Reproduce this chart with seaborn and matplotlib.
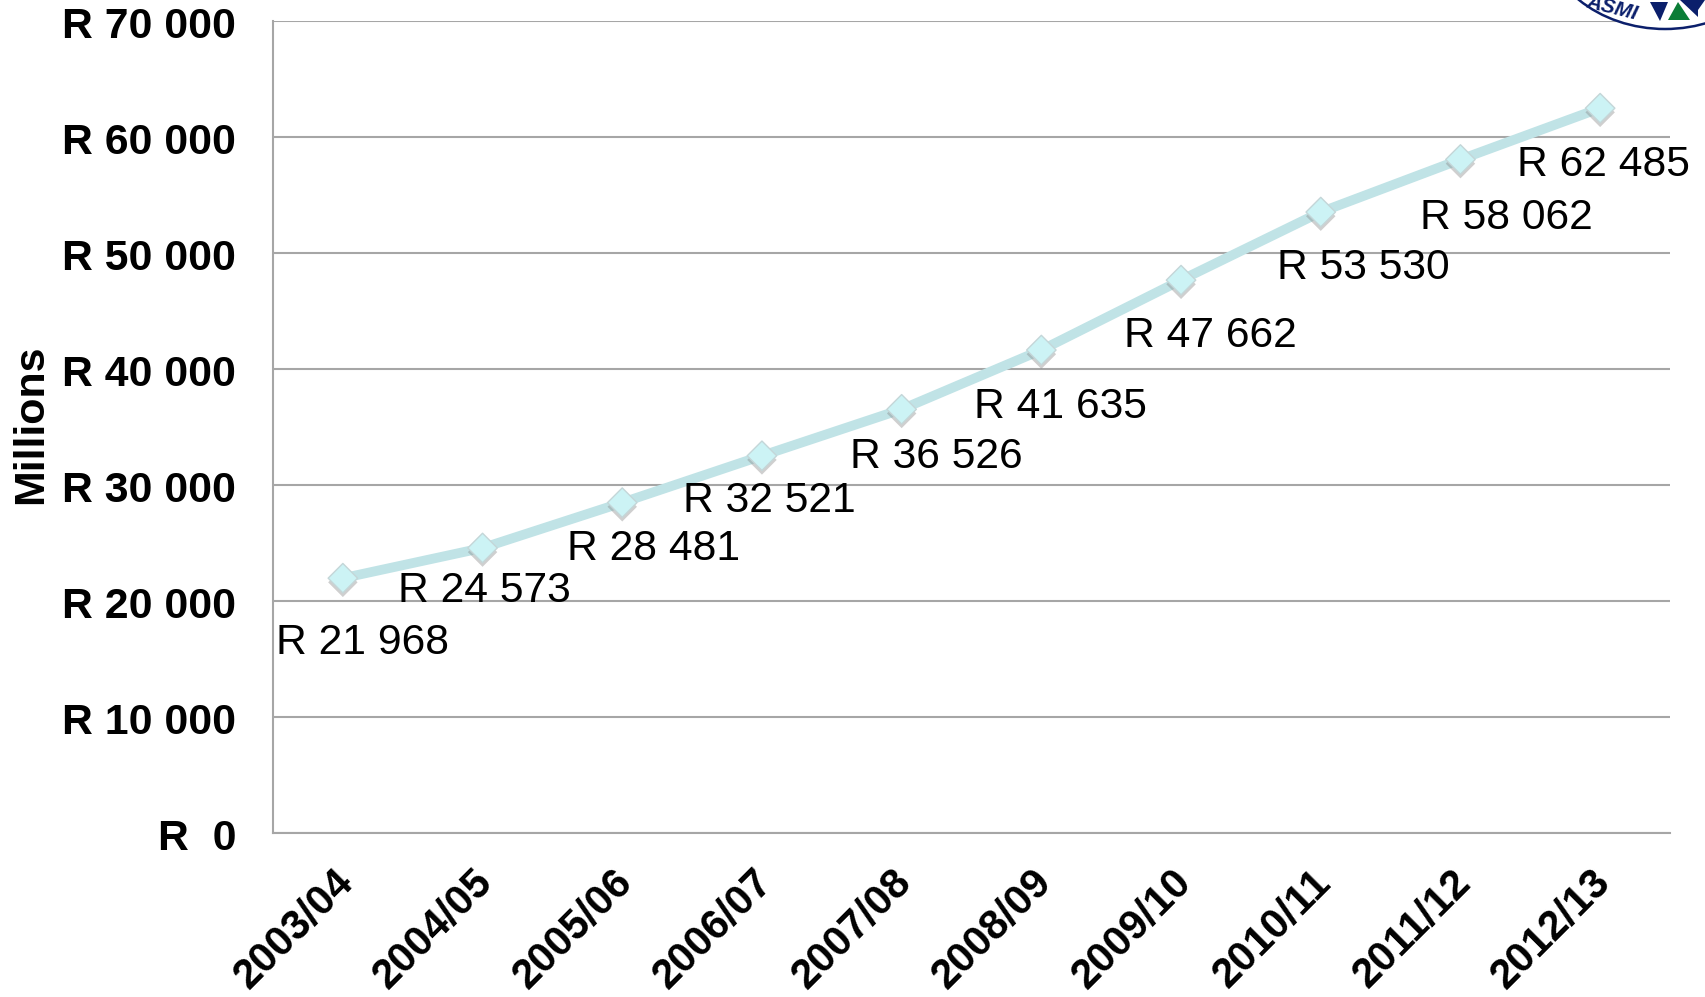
import matplotlib
matplotlib.use("Agg")
import matplotlib.pyplot as plt
import matplotlib.patheffects as pe
from matplotlib.patches import Ellipse, Polygon
from matplotlib.transforms import ScaledTranslation
import pandas as pd
import seaborn as sns

years = ["2003/04", "2004/05", "2005/06", "2006/07", "2007/08",
         "2008/09", "2009/10", "2010/11", "2011/12", "2012/13"]
spend = [21968, 24573, 28481, 32521, 36526, 41635, 47662, 53530, 58062, 62485]
point_labels = ["R 21 968", "R 24 573", "R 28 481", "R 32 521", "R 36 526",
                "R 41 635", "R 47 662", "R 53 530", "R 58 062", "R 62 485"]
y_ticks = [0, 10000, 20000, 30000, 40000, 50000, 60000, 70000]
y_tick_labels = ["R  0", "R 10 000", "R 20 000", "R 30 000", "R 40 000",
                 "R 50 000", "R 60 000", "R 70 000"]

# where each label sits relative to its point, in pixels (right, down)
label_offsets = [(20, 65), (2, 43), (31, 46), (7, 45), (35, 48),
                 (19, 57), (29, 56), (43, 56), (46, 59), (3, 57)]

GRID = "#a6a6a6"
NAVY = "#0b1f6b"
W, H = 1705, 997


def draw_logo(fig):
    # corner of the logo, cut off by the top of the image
    fig.add_artist(Ellipse((1665 / W, 1 + 71 / H), 244 / W, 200 / H, fc="white",
                           ec=NAVY, lw=1.8, transform=fig.transFigure))
    fig.text(1612 / W, 1 - 8 / H, "ASMI", fontsize=15, fontweight="bold", fontstyle="italic",
             color=NAVY, rotation=-14, ha="center", va="center")
    tris = [([1650, 1668, 1660], [2, 2, 21], NAVY),
            ([1668, 1690, 1678], [20, 20, 2], "#0a7d36"),
            ([1680, 1705, 1698, 1698], [0, 0, 10, 17], NAVY)]
    for xs, ys, col in tris:
        fig.add_artist(Polygon([(x / W, 1 - y / H) for x, y in zip(xs, ys)], fc=col, ec="none",
                               transform=fig.transFigure))


def main():
    sns.set_theme(style="white")
    plt.rcParams["font.family"] = ["Liberation Sans", "DejaVu Sans"]

    df = pd.DataFrame({"year": years, "spend": spend})

    fig, ax = plt.subplots(figsize=(W / 100, H / 100), dpi=100)
    fig.subplots_adjust(left=273 / W, right=1670 / W, bottom=1 - 833 / H, top=1 - 21 / H)

    sns.lineplot(data=df, x="year", y="spend", ax=ax, color="#c0e3e6", linewidth=7,
                 sort=False, solid_capstyle="butt", zorder=3)
    sns.scatterplot(data=df, x="year", y="spend", ax=ax, marker="D", s=225, color="#ccf3f5",
                    edgecolor="#c4d6d8", linewidth=1, zorder=4,
                    path_effects=[pe.SimplePatchShadow(offset=(0, -3), shadow_rgbFace="#888888", alpha=0.4),
                                  pe.Normal()])

    for i, (txt, off) in enumerate(zip(point_labels, label_offsets)):
        ax.annotate(txt, (i, spend[i]), xytext=(off[0], -off[1]), textcoords="offset pixels",
                    ha="center", va="center", fontsize=30.7, color="black", zorder=5)

    ax.set_xlim(-0.5, 9.5)
    ax.set_ylim(0, 70000)
    ax.set_yticks(y_ticks)
    ax.set_yticklabels(y_tick_labels, fontsize=30.8, fontweight="bold", color="black")
    ax.set_xticks(range(len(years)))
    ax.set_xticklabels(years, fontsize=30, fontweight="bold", color="black",
                       rotation=45, ha="right", rotation_mode="anchor")
    ax.tick_params(axis="y", length=0, pad=26.5)
    ax.tick_params(axis="x", length=0, pad=21)

    for lab in ax.get_xticklabels():
        lab.set_transform(lab.get_transform() + ScaledTranslation(-10 / 100, 0, fig.dpi_scale_trans))
    for lab in ax.get_yticklabels():
        lab.set_transform(lab.get_transform() + ScaledTranslation(0, -1 / 100, fig.dpi_scale_trans))

    ax.grid(axis="y", color=GRID, linewidth=1.5)
    ax.set_axisbelow(True)
    sns.despine(ax=ax, top=True, right=True)
    for side in ["left", "bottom"]:
        ax.spines[side].set_color(GRID)
        ax.spines[side].set_linewidth(1.5)

    ax.set_xlabel("")
    ax.set_ylabel("")
    fig.text(31 / W, 1 - 424 / H, "Millions", fontsize=31, fontweight="bold", rotation=90,
             ha="center", va="center", color="black")

    draw_logo(fig)
    fig.savefig("out.png", dpi=100)


if __name__ == "__main__":
    main()
